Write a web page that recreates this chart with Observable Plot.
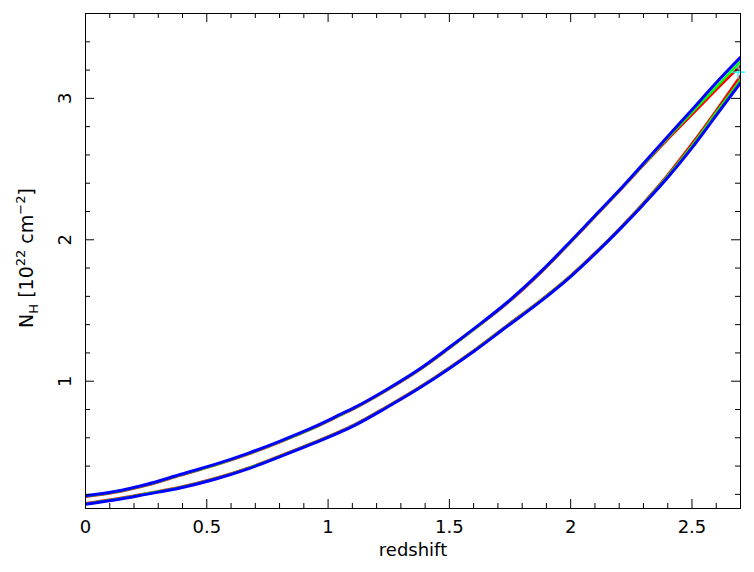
<!DOCTYPE html>
<html><head><meta charset="utf-8">
<script src="https://cdn.jsdelivr.net/npm/d3@7"></script>
<script src="https://cdn.jsdelivr.net/npm/@observablehq/plot@0.6"></script>
<style>body{margin:0;background:#fff} #chart svg{display:block}</style>
</head><body><div id="chart"></div>
<script>
// redshift grid
const redshift = [0,0.12,0.25,0.39,0.53,0.67,0.80,0.94,1.05,1.11,1.24,1.38,1.50,1.60,1.74,1.88,2.00,2.10,2.20,2.30,2.40,2.50,2.60,2.70];
// contour branches (NH in 1e22 cm^-2)
const blueUpper  = [0.19,0.22,0.27,0.34,0.41,0.49,0.575,0.675,0.765,0.815,0.94,1.09,1.24,1.37,1.56,1.78,1.99,2.17,2.35,2.54,2.73,2.92,3.11,3.29];
const greenUpper = [0.186,0.216,0.266,0.336,0.406,0.486,0.571,0.671,0.761,0.811,0.936,1.086,1.236,1.366,1.556,1.776,1.986,2.166,2.346,2.533,2.72,2.90,3.08,3.26];
const redUpper   = [0.183,0.213,0.263,0.333,0.403,0.483,0.568,0.668,0.758,0.808,0.933,1.083,1.233,1.363,1.552,1.772,1.982,2.162,2.342,2.527,2.71,2.885,3.06,3.23];
const blueLower  = [0.13,0.16,0.20,0.245,0.305,0.38,0.465,0.56,0.64,0.688,0.812,0.955,1.09,1.21,1.39,1.57,1.74,1.90,2.07,2.25,2.44,2.65,2.88,3.11];
const greenLower = [0.134,0.164,0.204,0.249,0.309,0.384,0.469,0.564,0.644,0.692,0.816,0.959,1.094,1.214,1.394,1.574,1.744,1.904,2.074,2.256,2.45,2.665,2.90,3.13];
const redLower   = [0.137,0.167,0.207,0.252,0.312,0.387,0.472,0.567,0.647,0.695,0.819,0.962,1.097,1.217,1.398,1.578,1.748,1.908,2.078,2.262,2.46,2.68,2.915,3.16];
// best fit
const bestZ = [2.69];
const bestNH = [3.185];
// ticks
const xMajor = [0,0.5,1,1.5,2,2.5];
const xLabels = ["0","0.5","1","1.5","2","2.5"];
const yMajor = [1,2,3];
const yLabels = ["1","2","3"];

const series = [
  {name:"red-upper", color:"#ff0000", v: redUpper},
  {name:"red-lower", color:"#ff0000", v: redLower},
  {name:"green-upper", color:"#00ff00", v: greenUpper},
  {name:"green-lower", color:"#00ff00", v: greenLower},
  {name:"blue-upper", color:"#0000ff", v: blueUpper},
  {name:"blue-lower", color:"#0000ff", v: blueLower}
];
const rows = series.flatMap(s => redshift.map((z,i) => ({key:s.name, color:s.color, z, nh:s.v[i]})));

const W=754, H=572, mL=85, mR=14, mT=13, mB=64;
const pW = W-mL-mR, pH = H-mT-mB;
const xMinor = d3.range(1,27).map(i=>i/10).filter(v=>Math.abs(v*2-Math.round(v*2))>1e-6);
const yMinor = d3.range(1,18).map(i=>i/5).filter(v=>Math.abs(v-Math.round(v))>1e-6);
const font = "DejaVu Sans, Liberation Sans, sans-serif";

const chart = Plot.plot({
  width: W, height: H,
  marginLeft: mL, marginRight: mR, marginTop: mT, marginBottom: mB,
  style: {fontFamily: font, background: "#fff"},
  x: {domain: [0, 2.7], axis: null},
  y: {domain: [0.1, 3.6], axis: null},
  marks: [
    Plot.line(rows.filter(r=>r.color==="#ff0000"), {x:"z", y:"nh", z:"key", stroke:"color", strokeWidth:2.5, curve:"monotone-x", clip:true}),
    Plot.line(rows.filter(r=>r.color==="#00ff00"), {x:"z", y:"nh", z:"key", stroke:"color", strokeWidth:2.5, curve:"monotone-x", clip:true}),
    Plot.line(rows.filter(r=>r.color==="#0000ff"), {x:"z", y:"nh", z:"key", stroke:"color", strokeWidth:3, curve:"monotone-x", clip:true}),
    Plot.dot(bestZ.map((z,i)=>({z, nh:bestNH[i]})), {x:"z", y:"nh", symbol:"plus", r:4.5, stroke:"#00ffff", strokeWidth:1.3}),
    // ticks (inside, all four sides)
    Plot.tickX(xMajor, {x:d=>d, insetTop:pH-9, stroke:"black"}),
    Plot.tickX(xMinor, {x:d=>d, insetTop:pH-5, stroke:"black"}),
    Plot.tickX(xMajor, {x:d=>d, insetBottom:pH-9, stroke:"black"}),
    Plot.tickX(xMinor, {x:d=>d, insetBottom:pH-5, stroke:"black"}),
    Plot.tickY(yMajor, {y:d=>d, insetRight:pW-9, stroke:"black"}),
    Plot.tickY(yMinor, {y:d=>d, insetRight:pW-5, stroke:"black"}),
    Plot.tickY(yMajor, {y:d=>d, insetLeft:pW-9, stroke:"black"}),
    Plot.tickY(yMinor, {y:d=>d, insetLeft:pW-5, stroke:"black"}),
    Plot.frame({stroke:"black", strokeWidth:1}),
    Plot.text(xMajor, {x:d=>d, text:xLabels, frameAnchor:"bottom", dy:19, lineAnchor:"middle", fontSize:18, fill:"black"}),
    Plot.text(yMajor, {y:d=>d, text:yLabels, frameAnchor:"left", dx:-20, rotate:-90, textAnchor:"middle", lineAnchor:"middle", fontSize:18, fill:"black"}),
    Plot.text(["redshift"], {text:d=>d, frameAnchor:"bottom", dy:42, lineAnchor:"middle", fontSize:18, fill:"black"})
  ]
});

const svg = d3.select(chart);
const lab = svg.append("text")
  .attr("transform", "translate(33,258) rotate(-90)")
  .attr("text-anchor", "middle")
  .attr("font-family", font)
  .attr("font-size", 19)
  .attr("fill", "black");
lab.append("tspan").text("N");
lab.append("tspan").attr("font-size", 13).attr("dy", 5).text("H");
lab.append("tspan").attr("dy", -5).text(" [10");
lab.append("tspan").attr("font-size", 13).attr("dy", -8).text("22");
lab.append("tspan").attr("dy", 8).text(" cm");
lab.append("tspan").attr("font-size", 13).attr("dy", -8).text("\u22122");
lab.append("tspan").attr("dy", 8).text("]");

document.getElementById("chart").append(chart);
</script>
</body></html>
